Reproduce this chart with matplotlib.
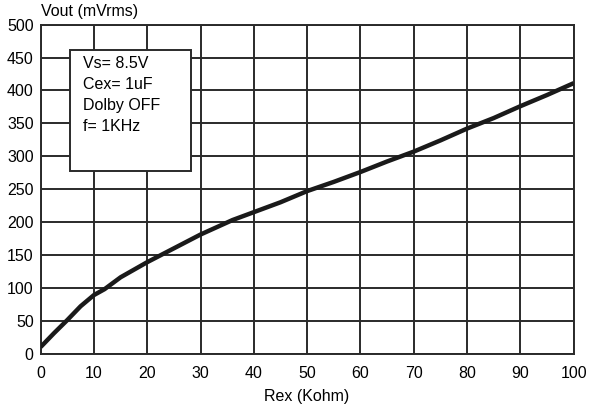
import numpy as np
import matplotlib.pyplot as plt
from matplotlib.patches import Rectangle

plt.rcParams['font.family'] = ['Liberation Sans', 'DejaVu Sans']

# curve
rex = [0, 2.5, 5, 7.5, 10, 12, 15, 20, 25, 30, 36, 40, 45, 50, 55, 60, 65, 70, 75, 80, 85, 90, 95, 100]
vout = [10, 31, 51, 72, 89, 98, 116, 139, 160, 181, 203, 215, 230, 247, 261, 276, 292, 307, 324, 342, 358, 376, 393, 411]

xticks = [0, 10, 20, 30, 40, 50, 60, 70, 80, 90, 100]
yticks = [0, 50, 100, 150, 200, 250, 300, 350, 400, 450, 500]
info = ['Vs= 8.5V', 'Cex= 1uF', 'Dolby OFF', 'f= 1KHz']

fig = plt.figure(figsize=(5.89, 4.17), dpi=100)
ax = fig.add_axes([0.069, 0.152, 0.905, 0.789])

ax.plot(rex, vout, color='#1a1a1a', lw=3.2, solid_capstyle='butt', zorder=3)

ax.set_xlim(0, 100)
ax.set_ylim(0, 500)
ax.set_xticks(xticks)
ax.set_yticks(yticks)
ax.tick_params(axis='y', length=0, labelsize=11.5, pad=5)
ax.tick_params(axis='x', length=0, labelsize=11.5, pad=9)
ax.grid(True, color='#2a2a2a', lw=1.4)
for s in ax.spines.values():
    s.set_color('#2a2a2a')
    s.set_linewidth(1.4)

# info box
ax.add_patch(Rectangle((5.5, 278), 22.7, 183.5, facecolor='white',
                       edgecolor='#2a2a2a', lw=1.4, zorder=4))
ax.text(8.0, 453, '\n'.join(info), fontsize=11.5, va='top', ha='left',
        linespacing=1.5, zorder=5)

fig.text(0.069, 0.972, 'Vout (mVrms)', fontsize=11.5, va='center', ha='left')
fig.text(0.52, 0.05, 'Rex (Kohm)', fontsize=11.5, va='center', ha='center')

fig.savefig('out.png', dpi=100)
